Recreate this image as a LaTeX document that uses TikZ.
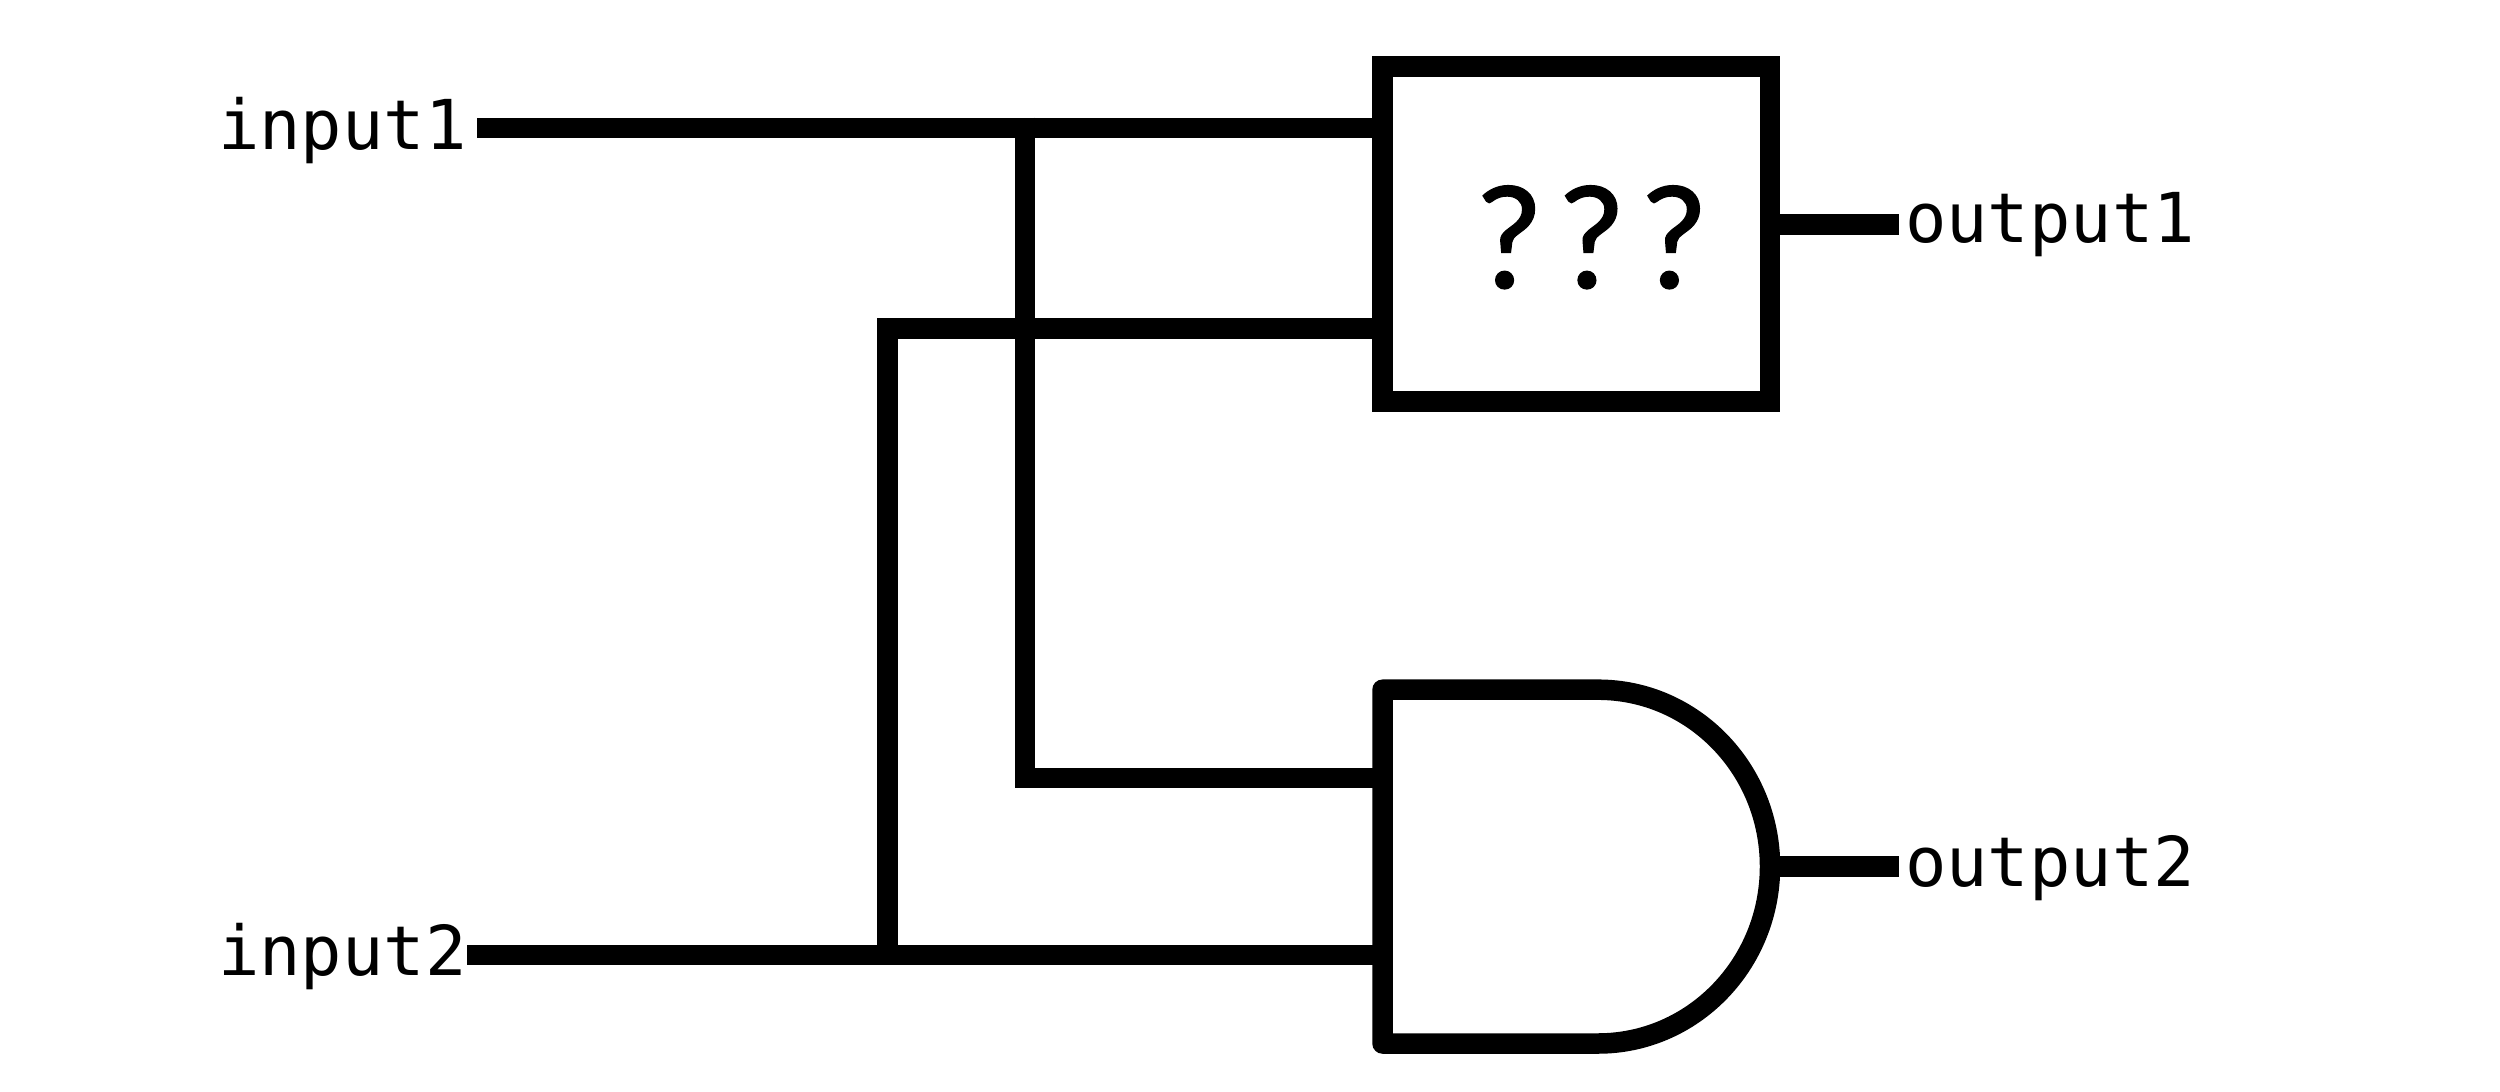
\documentclass[tikz,border=0pt]{standalone}
\usepackage{fontspec}
\newfontfamily\monolabel{DejaVu Sans Mono}
\newfontfamily\qfont[LetterSpace=8.7,FakeBold=0.8]{Carlito}
\begin{document}
\begin{tikzpicture}[x=0.5pt,y=-0.5pt,
  wire/.style={line width=10.25pt,line cap=butt,line join=miter},
  gateline/.style={line width=10.25pt,line join=round,line cap=round},
  lbl/.style={inner sep=0pt,outer sep=0pt,anchor=base west,font=\monolabel\fontsize{34.4}{40}\selectfont},
  qmarks/.style={inner sep=0pt,outer sep=0pt,anchor=base west,font=\qfont\fontsize{75}{90}\selectfont}]
\useasboundingbox (0,0) rectangle (2500,1092);
% labels
\node[lbl] (input1) at (218,149.3) {input1};
\node[lbl] (input2) at (218,975) {input2};
\node[lbl] (output1) at (1905,242) {output1};
\node[lbl] (output2) at (1905,886.7) {output2};
% unknown block
\node[draw,line width=10.25pt,inner sep=0pt,minimum width=193.75pt,minimum height=167.5pt] (unknown) at (1576.25,234) {};
\node[qmarks] (q) at (1474,288) {???};
% AND gate
\coordinate (gnw) at (1382.5,689.7);
\coordinate (gsw) at (1382.5,1043.5);
\coordinate (gne) at (1598,689.7);
\coordinate (gse) at (1598,1043.5);
\coordinate (gright) at (1770,866.5);
\draw[gateline] (gnw) -- (gne) .. controls (1693,689.7) and (1770,768.8) .. (gright) .. controls (1770,964.2) and (1693,1043.5) .. (gse) -- (gsw) -- cycle;
% wire points
\coordinate (in1start) at (477,128);
\coordinate (in2start) at (467,955);
\coordinate (v1top) at (1025,117.5);
\coordinate (v1bot) at (1025,778);
\coordinate (v2top) at (887.5,328.7);
\coordinate (v2bot) at (887.5,955);
\coordinate (out1end) at (1899,224.5);
\coordinate (out2end) at (1899,866.5);
\coordinate (in2end) at (1393,955);
% connectors
\draw[wire] (in1start) -- (unknown.west |- in1start);
\draw[wire] (v1top) -- (v1bot) -- (gnw |- v1bot);
\draw[wire] (v2bot) -- (v2top) -- (unknown.west |- v2top);
\draw[wire] (in2start) -- (in2end);
\draw[wire] (unknown.east |- out1end) -- (out1end);
\draw[wire] (gright) -- (out2end);
\end{tikzpicture}
\end{document}
